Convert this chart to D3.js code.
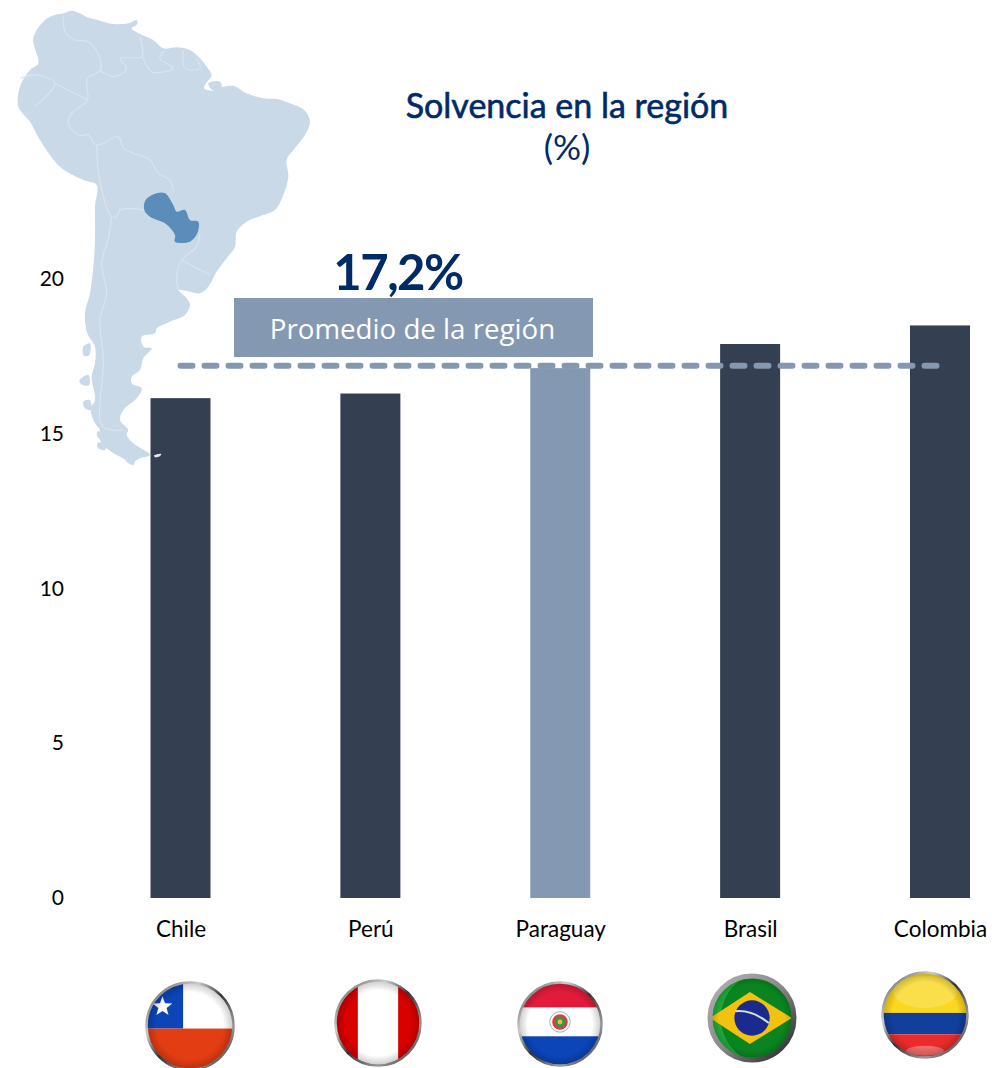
<!DOCTYPE html>
<html><head><meta charset="utf-8">
<script src="https://cdnjs.cloudflare.com/ajax/libs/d3/7.8.5/d3.min.js"></script>
<style>html,body{margin:0;background:#fff}svg{display:block}</style></head>
<body><svg id="c" width="992" height="1068"></svg>
<script>
const categories=["Chile","Perú","Paraguay","Brasil","Colombia"];
const solvency=[16.15,16.3,17.12,17.9,18.5];
const highlight="Paraguay";
const average=17.2;
const yTicks=[0,5,10,15,20];
const titleText="Solvencia en la región", unitText="(%)", avgText="17,2%", avgLabel="Promedio de la región";

// Decorative map (3x crop pixels)
const continent=[[135,60],[165,45],[190,40],[215,32],[240,40],[262,52],[300,62],[340,72],[385,70],[410,60],[412,72],[395,85],[420,102],[460,120],[490,145],[530,142],[570,150],[600,175],[620,200],[635,225],[618,250],[612,265],[640,272],[665,262],[700,257],[740,280],[790,295],[830,297],[870,310],[915,332],[930,365],[915,405],[880,450],[860,480],[865,530],[850,585],[825,630],[790,645],[740,665],[710,695],[705,740],[680,775],[650,815],[625,860],[600,880],[570,875],[535,870],[560,895],[570,915],[555,945],[510,965],[470,985],[465,1000],[425,1010],[430,1040],[455,1045],[430,1075],[420,1110],[395,1130],[395,1150],[425,1165],[410,1195],[370,1230],[360,1260],[385,1290],[380,1305],[400,1330],[450,1365],[420,1375],[400,1385],[350,1365],[320,1345],[300,1320],[300,1290],[285,1270],[272,1225],[285,1200],[275,1130],[285,1090],[285,1040],[262,1000],[255,940],[270,880],[280,800],[285,720],[285,620],[290,555],[250,540],[180,500],[120,420],[90,365],[55,320],[60,260],[90,210],[115,190],[100,115]];
const islands=[
 [[250,1040],[270,1030],[268,1065],[252,1068]],
 [[238,1142],[265,1125],[268,1155],[248,1155]],
 [[250,1205],[270,1200],[272,1230],[255,1225]],
 [[292,1295],[315,1300],[305,1320],[292,1310]],
 [[292,1330],[320,1330],[315,1350],[295,1345]],
 [[375,1378],[405,1385],[400,1395],[382,1388]],
 [[625,250],[660,245],[665,262],[640,272]]
];
const paraguayShape=[[437,600],[470,580],[495,580],[520,615],[530,635],[555,630],[570,660],[595,665],[592,700],[570,725],[525,725],[525,705],[495,670],[450,650],[433,630]];
const borders=[
 [[190,50],[195,95],[225,120],[265,125],[300,175],[300,212],[262,235],[262,300],[215,340],[205,370],[235,405],[265,405],[290,435],[355,410],[370,445],[450,480],[475,520],[510,540],[520,575]],
 [[300,212],[345,230],[380,205],[360,175],[425,170],[420,110]],
 [[425,160],[455,215],[520,205],[480,175],[495,150]],
 [[550,150],[555,205],[600,205],[590,175]],
 [[60,235],[110,225],[165,250],[105,320]],
 [[165,250],[262,300]],
 [[290,435],[300,545],[335,650],[350,650],[360,630],[435,630]],
 [[335,650],[325,715],[305,790],[320,880],[300,960],[310,1080],[308,1280],[370,1290]],
 [[600,700],[590,740],[545,780],[530,830],[535,870]],
 [[545,780],[630,825]]
];
const tipIsland=[[462,1367],[484,1362],[478,1370],[465,1372]];

// Flags: centre and radius
const flags=[
 {name:"Chile",cx:190,cy:1026,r:45},
 {name:"Perú",cx:378,cy:1023,r:44},
 {name:"Paraguay",cx:560,cy:1024,r:43},
 {name:"Brasil",cx:752,cy:1018,r:44},
 {name:"Colombia",cx:925,cy:1015,r:44}
];

const svg=d3.select("#c");
const sans="Lato, 'Noto Sans', sans-serif";
const navy="#002b66", dark="#343f52", steel="#8598b1";

const x=d3.scalePoint().domain(categories).range([180.5,940]);
const y=d3.scaleLinear().domain([0,20]).range([898,279]);
const barW=60;

// Map
const mp=svg.append("g").attr("transform","scale(0.3333)");
const closed=d3.line().curve(d3.curveCatmullRomClosed.alpha(0.5));
const open=d3.line().curve(d3.curveCatmullRom.alpha(0.5));
mp.append("path").attr("d",closed(continent)).attr("fill","#c9d9e8");
mp.selectAll("path.i").data(islands).join("path").attr("class","i").attr("d",d=>closed(d)).attr("fill","#c9d9e8");
mp.selectAll("path.b").data(borders).join("path").attr("class","b").attr("d",d=>open(d))
  .attr("fill","none").attr("stroke","#d9e5f0").attr("stroke-width",3.5);
mp.append("path").attr("d",closed(paraguayShape)).attr("fill","#5b8cba");

// Axes
const gy=svg.append("g").attr("transform","translate(64,0)")
  .call(d3.axisLeft(y).tickValues(yTicks).tickSize(0).tickPadding(0));
gy.select(".domain").remove();
gy.selectAll("text").attr("font-family",sans).attr("font-size",21).attr("fill","#000");
const gx=svg.append("g").attr("transform","translate(0,921)")
  .call(d3.axisBottom(x).tickSize(0).tickPadding(0));
gx.select(".domain").remove();
gx.selectAll("text").attr("font-family",sans).attr("font-size",22.5).attr("fill","#000").attr("dy","0.71em");

// Bars
svg.selectAll("rect.bar").data(categories).join("rect").attr("class","bar")
  .attr("x",d=>x(d)-barW/2).attr("width",barW)
  .attr("y",(d,i)=>y(solvency[i])).attr("height",(d,i)=>y(0)-y(solvency[i]))
  .attr("fill",d=>d===highlight?steel:dark);
svg.append("g").attr("transform","scale(0.3333)").append("path").attr("d",closed(tipIsland)).attr("fill","#dfe6ee");

// Average line
svg.append("line").attr("x1",x(categories[0])).attr("x2",x(categories[4]))
  .attr("y1",y(average)).attr("y2",y(average))
  .attr("stroke",steel).attr("stroke-width",6).attr("stroke-linecap","round")
  .attr("stroke-dasharray","12 12");

// Average box and labels
svg.append("rect").attr("x",234).attr("y",298).attr("width",359).attr("height",59).attr("fill",steel);
svg.append("text").attr("x",412.5).attr("y",339).attr("text-anchor","middle")
  .attr("font-family","'Open Sans', sans-serif").attr("font-size",27.7).attr("fill","#fff").text(avgLabel);
svg.append("text").attr("x",398).attr("y",290).attr("text-anchor","middle").attr("letter-spacing",-1.5)
  .attr("font-family",sans).attr("font-weight",700).attr("font-size",49).attr("fill",navy).text(avgText);

// Title
svg.append("text").attr("x",567).attr("y",118).attr("text-anchor","middle")
  .attr("font-family",sans).attr("font-size",34).attr("fill",navy).attr("stroke",navy).attr("stroke-width",0.6).text(titleText);
svg.append("text").attr("x",567).attr("y",160).attr("text-anchor","middle")
  .attr("font-family",sans).attr("font-size",35).attr("fill",navy).text(unitText);

// Flags
const defs=svg.append("defs");
function ringGrad(id,stops){const g=defs.append("linearGradient").attr("id",id).attr("x1",0).attr("y1",0).attr("x2",1).attr("y2",1);
  stops.forEach(s=>g.append("stop").attr("offset",s[0]).attr("stop-color",s[1]));}
ringGrad("ring",[["0","#555"],["0.3","#ccc"],["0.5","#333"],["0.75","#999"],["1","#222"]]);
ringGrad("ringB",[["0","#b5b5b5"],["0.5","#888"],["1","#222"]]);
const shade=defs.append("radialGradient").attr("id","shade");
[["0.78","#000",0],["1","#000",0.2]].forEach(s=>shade.append("stop").attr("offset",s[0]).attr("stop-color",s[1]).attr("stop-opacity",s[2]));

function star(cx,cy,R){const p=[];for(let i=0;i<10;i++){const a=-Math.PI/2+i*Math.PI/5,r=i%2?R*0.42:R;p.push([cx+r*Math.cos(a),cy+r*Math.sin(a)]);}return d3.line().curve(d3.curveLinearClosed)(p);}

const painters={
 "Chile":(g,r)=>{
   const R=(a,b,c,d,f)=>g.append("rect").attr("x",a*r).attr("y",b*r).attr("width",c*r).attr("height",d*r).attr("fill",f);
   R(-1,-1,2,1.06,"#fff");R(-1,-1,0.84,1.06,"#0d44b8");R(-1,0.06,2,1,"#e33d14");
   g.append("path").attr("d",star(-0.64*r,-0.45*r,0.24*r)).attr("fill","#fff");
 },
 "Perú":(g,r)=>{
   const R=(a,c,f)=>g.append("rect").attr("x",a*r).attr("y",-r).attr("width",c*r).attr("height",2*r).attr("fill",f);
   R(-1,2,"#d90000");R(-0.48,0.96,"#fff");
 },
 "Paraguay":(g,r)=>{
   const R=(b,d,f)=>g.append("rect").attr("x",-r).attr("y",b*r).attr("width",2*r).attr("height",d*r).attr("fill",f);
   R(-1,0.6,"#e31b3a");R(-0.4,0.7,"#fff");R(0.3,0.7,"#0b45b8");
   const e=g.append("g").attr("transform",`translate(0,${-0.05*r})`);
   e.append("circle").attr("r",0.25*r).attr("fill","#fff").attr("stroke","#777").attr("stroke-width",0.6);
   e.append("circle").attr("r",0.19*r).attr("fill","#e4393c");
   e.append("circle").attr("r",0.13*r).attr("fill","#3a8f55");
   e.append("circle").attr("r",0.06*r).attr("fill","#e8c020");
 },
 "Brasil":(g,r)=>{
   g.append("rect").attr("x",-r).attr("y",-r).attr("width",2*r).attr("height",2*r).attr("fill","#0a8420");
   g.append("path").attr("d",`M${-r},${r}A${r},${r} 0 0 1 ${-0.1*r},${-r}A${1.1*r},${1.1*r} 0 0 0 ${-0.1*r},${r}Z`).attr("fill","#1fa83a");
   g.append("path").attr("d",`M${-r},0L${-0.05*r},${-0.62*r}L${0.95*r},0L${-0.05*r},${0.62*r}Z`).attr("fill","#f3c20f");
   g.append("circle").attr("r",0.42*r).attr("fill","#1b2a8e");
   g.append("path").attr("d",`M${-0.4*r},${-0.16*r}Q0,${-0.2*r} ${0.4*r},${0.12*r}`).attr("fill","none").attr("stroke","#cfe3d8").attr("stroke-width",2);
 },
 "Colombia":(g,r)=>{
   const R=(b,d,f)=>g.append("rect").attr("x",-r).attr("y",b*r).attr("width",2*r).attr("height",d*r).attr("fill",f);
   R(-1,0.95,"#fbd71d");R(-0.05,0.51,"#123f9c");R(0.46,0.54,"#ea2b2b");
   g.append("ellipse").attr("cy",-0.55*r).attr("rx",0.75*r).attr("ry",0.38*r).attr("fill","#fff").attr("opacity",0.2);
   g.append("ellipse").attr("cy",0.85*r).attr("rx",0.45*r).attr("ry",0.12*r).attr("fill","#fff").attr("opacity",0.3);
 }
};
flags.forEach((f,i)=>{
  const g=svg.append("g").attr("transform",`translate(${f.cx},${f.cy})`);
  const id="clip"+i;
  const br=f.name==="Brasil";
  defs.append("clipPath").attr("id",id).append("circle").attr("r",f.r-2);
  const inner=g.append("g").attr("clip-path",`url(#${id})`);
  painters[f.name](inner,f.r-2);
  g.append("circle").attr("r",f.r-2).attr("fill","url(#shade)");
  g.append("circle").attr("r",f.r-(br?2:1.5)).attr("fill","none").attr("stroke",br?"url(#ringB)":"url(#ring)").attr("stroke-width",br?5:2.5);
});
</script></body></html>
